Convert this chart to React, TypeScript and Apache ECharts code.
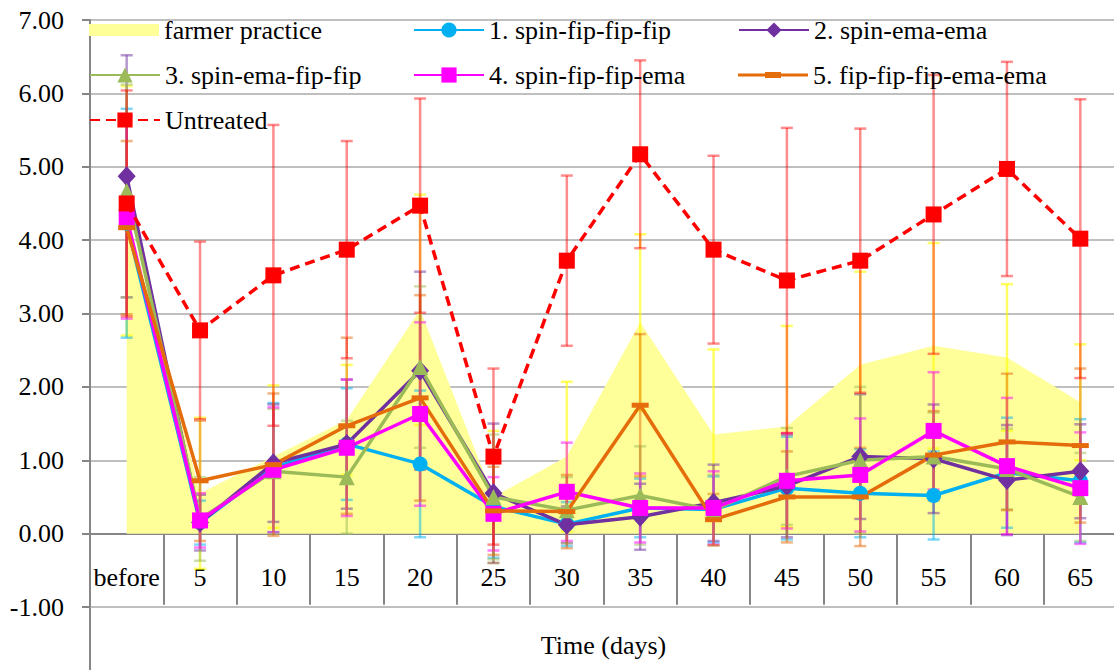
import React, { useEffect, useRef } from 'react';
import * as echarts from 'echarts';

const categories = ['before', '5', '10', '15', '20', '25', '30', '35', '40', '45', '50', '55', '60', '65'];
const yTicks = { min: -1, max: 7, interval: 1 };

const farmer = [4.4, 0.55, 1.05, 1.55, 3.05, 0.5, 1.05, 2.88, 1.35, 1.46, 2.3, 2.56, 2.4, 1.79];
const farmerErr = [1.7, 1.03, 0.97, 0.75, 1.57, 0.9, 1.02, 1.2, 1.16, 1.37, 1.27, 1.4, 1.0, 0.79];

const s1 = [4.23, 0.15, 0.9, 1.22, 0.95, 0.37, 0.13, 0.35, 0.33, 0.62, 0.55, 0.52, 0.83, 0.72];
const s1Err = [1.56, 0.3, 0.88, 0.76, 1.0, 0.7, 0.3, 0.4, 0.45, 0.7, 0.6, 0.6, 0.75, 0.84];

const s2 = [4.87, 0.15, 0.96, 1.22, 2.22, 0.55, 0.12, 0.23, 0.42, 0.65, 1.05, 1.02, 0.73, 0.85];
const s2Err = [1.65, 0.38, 0.8, 0.88, 1.35, 0.95, 0.25, 0.45, 0.52, 0.7, 0.85, 0.74, 0.75, 0.64];

const s3 = [4.67, 0.2, 0.85, 0.77, 2.27, 0.5, 0.32, 0.52, 0.32, 0.78, 1.0, 1.05, 0.88, 0.5];
const s3Err = [1.45, 0.57, 0.85, 0.77, 1.1, 0.85, 0.45, 0.67, 0.48, 0.66, 1.0, 0.6, 0.55, 0.6];

const s4 = [4.31, 0.18, 0.87, 1.17, 1.63, 0.27, 0.57, 0.35, 0.35, 0.72, 0.8, 1.4, 0.92, 0.62];
const s4Err = [1.38, 0.37, 0.85, 0.93, 1.25, 0.5, 0.67, 0.47, 0.5, 0.65, 0.77, 0.8, 0.93, 0.76];

const s5 = [4.17, 0.72, 0.94, 1.47, 1.85, 0.31, 0.3, 1.75, 0.19, 0.5, 0.5, 1.07, 1.25, 1.2];
const s5Err = [1.18, 0.82, 0.97, 1.2, 1.4, 0.6, 0.5, 0.97, 0.35, 0.62, 0.67, 0.6, 0.93, 1.05];

const untreated = [4.5, 2.77, 3.52, 3.87, 4.47, 1.05, 3.72, 5.17, 3.87, 3.45, 3.72, 4.35, 4.97, 4.02];
const untreatedErr = [1.54, 1.21, 2.05, 1.48, 1.46, 1.2, 1.16, 1.28, 1.28, 2.08, 1.8, 1.9, 1.46, 1.9];

const names = [
  'farmer practice',
  '1. spin-fip-fip-fip',
  '2. spin-ema-ema',
  '3. spin-ema-fip-fip',
  '4. spin-fip-fip-ema',
  '5. fip-fip-fip-ema-ema',
  'Untreated',
];

const FONT = "'Liberation Serif', 'Times New Roman', serif";

function errSeries(id: string, values: number[], errs: number[], color: string, z: number) {
  return {
    type: 'custom',
    name: id + ' error',
    z,
    silent: true,
    data: values.map((v, i) => [i, v - errs[i], v + errs[i]]),
    encode: { x: 0, y: [1, 2] },
    renderItem: (_params: any, api: any) => {
      const x = api.value(0);
      const lo = api.coord([x, api.value(1)]);
      const hi = api.coord([x, api.value(2)]);
      const hw = 6;
      const style = { stroke: color, lineWidth: 2.5 };
      return {
        type: 'group',
        children: [
          { type: 'line', shape: { x1: lo[0], y1: lo[1], x2: hi[0], y2: hi[1] }, style },
          { type: 'line', shape: { x1: lo[0] - hw, y1: lo[1], x2: lo[0] + hw, y2: lo[1] }, style },
          { type: 'line', shape: { x1: hi[0] - hw, y1: hi[1], x2: hi[0] + hw, y2: hi[1] }, style },
        ],
      };
    },
  };
}

function lineSeries(name: string, data: number[], color: string, symbol: string, symbolSize: any, z: number, dashed = false) {
  return {
    type: 'line',
    name,
    data,
    z,
    symbol,
    symbolSize,
    itemStyle: { color },
    lineStyle: { color, width: 3.5, type: dashed ? [10, 6] : 'solid' },
  };
}

export default function App() {
  const ref = useRef<HTMLDivElement>(null);
  useEffect(() => {
    document.body.style.margin = '0';
    const chart = echarts.init(ref.current!, null, { renderer: 'svg' });
    const legendBase = {
      orient: 'horizontal',
      itemWidth: 70,
      itemHeight: 19,
      padding: 0,
      itemGap: 0,
      selectedMode: false,
      textStyle: { fontSize: 26, color: '#000', fontFamily: FONT },
    };
    const option: any = {
      animation: false,
      textStyle: { fontFamily: FONT },
      grid: { left: 90, right: -3, top: 20, bottom: 63, containLabel: false, outerBoundsMode: 'none' },
      legend: [
        { ...legendBase, left: 89, top: 17, data: [{ name: names[0], icon: 'path://M0 0H70V12H0Z' }] },
        { ...legendBase, left: 413, top: 17, data: [names[1]] },
        { ...legendBase, left: 738, top: 17, data: [names[2]] },
        { ...legendBase, left: 89, top: 62, data: [names[3]] },
        { ...legendBase, left: 413, top: 62, data: [names[4]] },
        { ...legendBase, left: 738, top: 62, data: [{ name: names[5], icon: 'path://M0 5.5H70V8.5H0Z M27 4H43V10H27Z' }] },
        { ...legendBase, left: 89, top: 107, data: [names[6]] },
      ],
      xAxis: {
        type: 'category',
        data: categories,
        boundaryGap: true,
        axisLine: { onZero: true, lineStyle: { color: '#868686', width: 2 } },
        axisTick: { show: true, length: 71, interval: 0, lineStyle: { color: '#868686', width: 2 } },
        axisLabel: { interval: 0, margin: -43, fontSize: 26, color: '#000', fontFamily: FONT },
        splitLine: { show: false },
        name: 'Time (days)',
        nameLocation: 'middle',
        nameGap: 25,
        nameTextStyle: { fontSize: 26, color: '#000', fontFamily: FONT },
      },
      yAxis: {
        type: 'value',
        min: yTicks.min,
        max: yTicks.max,
        interval: yTicks.interval,
        axisLine: { show: true, lineStyle: { color: '#868686', width: 2 } },
        axisTick: { show: true, length: 8, lineStyle: { color: '#868686', width: 2 } },
        axisLabel: { margin: 26, fontSize: 26, color: '#000', fontFamily: FONT, formatter: (v: number) => v.toFixed(2) },
        splitLine: { lineStyle: { color: '#BFBFBF', width: 2 } },
      },
      graphic: [
        { type: 'line', shape: { x1: 90, y1: 607, x2: 90, y2: 670 }, style: { stroke: '#868686', lineWidth: 2 } },
      ],
      series: [
        {
          type: 'line',
          name: names[0],
          data: farmer,
          z: 1,
          symbol: 'none',
          itemStyle: { color: '#FFFF99' },
          lineStyle: { width: 0, color: '#FFFF99' },
          areaStyle: { color: '#FFFF99', opacity: 1 },
        },
        errSeries('f', farmer, farmerErr, 'rgba(255,255,0,0.6)', 2),
        errSeries('s1', s1, s1Err, 'rgba(0,176,240,0.5)', 2),
        errSeries('s2', s2, s2Err, 'rgba(112,48,160,0.5)', 2),
        errSeries('s3', s3, s3Err, 'rgba(155,187,89,0.5)', 2),
        errSeries('s4', s4, s4Err, 'rgba(255,0,255,0.5)', 2),
        errSeries('s5', s5, s5Err, 'rgba(228,108,10,0.5)', 2),
        errSeries('u', untreated, untreatedErr, 'rgba(255,0,0,0.45)', 2),
        lineSeries(names[1], s1, '#00B0F0', 'circle', 15, 3),
        lineSeries(names[2], s2, '#7030A0', 'diamond', [18, 20], 3),
        lineSeries(names[3], s3, '#9BBB59', 'triangle', 16, 3),
        lineSeries(names[4], s4, '#FF00FF', 'rect', 16, 3),
        lineSeries(names[5], s5, '#E46C0A', 'rect', [17, 5], 3),
        lineSeries(names[6], untreated, '#FF0000', 'rect', 16, 4, true),
      ],
    };
    chart.setOption(option);
    return () => chart.dispose();
  }, []);
  return <div ref={ref} style={{ width: 1114, height: 670 }} />;
}
